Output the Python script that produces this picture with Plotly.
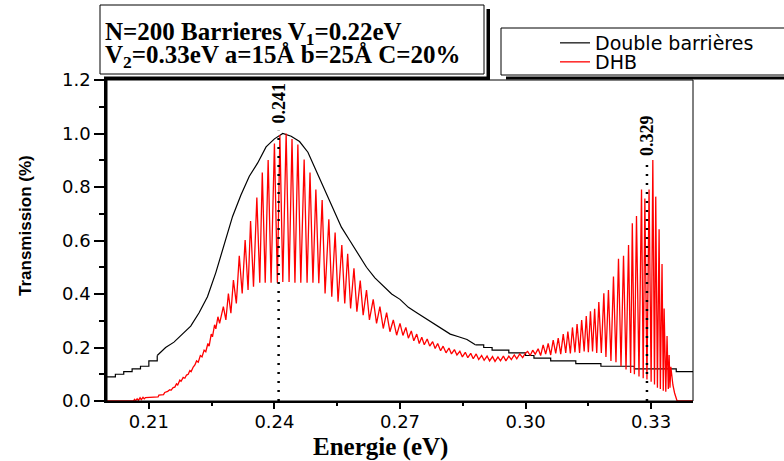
import plotly.graph_objects as go

# ---------------- data ----------------
# Double barrier transmission (black curve)
db_energy = [0.200, 0.202, 0.204, 0.206, 0.208, 0.210, 0.212, 0.214, 0.216, 0.218,
             0.220, 0.222, 0.224, 0.226, 0.228, 0.230, 0.232, 0.234, 0.236, 0.238,
             0.240, 0.242, 0.244, 0.246, 0.248, 0.250, 0.252, 0.254, 0.256, 0.258,
             0.260, 0.262, 0.264, 0.266, 0.268, 0.270, 0.272, 0.274, 0.276, 0.278,
             0.280, 0.282, 0.284, 0.286, 0.288, 0.290, 0.292, 0.294, 0.296, 0.298,
             0.300, 0.302, 0.304, 0.306, 0.308, 0.310, 0.312, 0.314, 0.316, 0.318,
             0.320, 0.322, 0.324, 0.326, 0.328, 0.330, 0.332, 0.334, 0.336, 0.338,
             0.340]
db_trans = [0.09, 0.10, 0.11, 0.12, 0.13, 0.15, 0.17, 0.20, 0.22, 0.25,
            0.28, 0.33, 0.39, 0.48, 0.59, 0.69, 0.77, 0.84, 0.89, 0.95,
            0.98, 1.00, 0.99, 0.97, 0.93, 0.86, 0.79, 0.72, 0.65, 0.60,
            0.55, 0.50, 0.46, 0.43, 0.40, 0.38, 0.35, 0.33, 0.31, 0.29,
            0.27, 0.25, 0.24, 0.23, 0.21, 0.20, 0.19, 0.19, 0.18, 0.18,
            0.17, 0.16, 0.16, 0.15, 0.15, 0.15, 0.14, 0.14, 0.14, 0.13,
            0.13, 0.13, 0.13, 0.12, 0.12, 0.12, 0.12, 0.12, 0.11, 0.11,
            0.11]
# the slowly varying tails are drawn as steps, the resonance itself as a smooth line
db_step_left_end = 0.212
db_step_right_start = 0.288

# DHB transmission (red curve): successive maxima / minima
dhb_energy = [
    0.2000, 0.2063, 0.2066, 0.2068, 0.2072, 0.2075, 0.2079, 0.2082, 0.2086, 0.2089,
    0.2092, 0.2105, 0.2122, 0.2124, 0.2135, 0.2138, 0.2145, 0.2150, 0.2153, 0.2158,
    0.2162, 0.2166, 0.2169, 0.2174, 0.2177, 0.2182, 0.2186, 0.2190, 0.2194, 0.2198,
    0.2201, 0.2206, 0.2210, 0.2214, 0.2218, 0.2223, 0.2227, 0.2232, 0.2236, 0.2241,
    0.2244, 0.2249, 0.2252, 0.2257, 0.2260, 0.2265, 0.2269, 0.2278, 0.2284, 0.2290,
    0.2296, 0.2302, 0.2309, 0.2316, 0.2323, 0.2330, 0.2337, 0.2343, 0.2350, 0.2358,
    0.2365, 0.2371, 0.2378, 0.2385, 0.2392, 0.2400, 0.2407, 0.2413, 0.2420, 0.2428,
    0.2435, 0.2442, 0.2449, 0.2456, 0.2463, 0.2471, 0.2478, 0.2485, 0.2492, 0.2499,
    0.2506, 0.2514, 0.2521, 0.2530, 0.2537, 0.2545, 0.2552, 0.2561, 0.2568, 0.2575,
    0.2582, 0.2590, 0.2597, 0.2605, 0.2612, 0.2620, 0.2627, 0.2636, 0.2644, 0.2652,
    0.2660, 0.2668, 0.2676, 0.2684, 0.2692, 0.2700, 0.2707, 0.2714, 0.2720, 0.2727,
    0.2733, 0.2740, 0.2746, 0.2752, 0.2758, 0.2765, 0.2771, 0.2778, 0.2784, 0.2790,
    0.2797, 0.2803, 0.2810, 0.2817, 0.2823, 0.2830, 0.2836, 0.2843, 0.2849, 0.2856,
    0.2862, 0.2869, 0.2875, 0.2882, 0.2888, 0.2895, 0.2901, 0.2908, 0.2914, 0.2921,
    0.2927, 0.2934, 0.2940, 0.2947, 0.2953, 0.2960, 0.2966, 0.2973, 0.2979, 0.2986,
    0.2993, 0.3000, 0.3005, 0.3011, 0.3017, 0.3023, 0.3030, 0.3036, 0.3042, 0.3048,
    0.3054, 0.3060, 0.3066, 0.3072, 0.3078, 0.3084, 0.3090, 0.3096, 0.3101, 0.3107,
    0.3112, 0.3118, 0.3123, 0.3129, 0.3134, 0.3140, 0.3145, 0.3150, 0.3155, 0.3160,
    0.3165, 0.3170, 0.3175, 0.3181, 0.3187, 0.3192, 0.3198, 0.3204, 0.3210, 0.3216,
    0.3222, 0.3228, 0.3234, 0.3240, 0.3246, 0.3251, 0.3255, 0.3260, 0.3265, 0.3271,
    0.3277, 0.3281, 0.3285, 0.3290, 0.3295, 0.3300, 0.3304, 0.3308, 0.3311, 0.3315,
    0.3319, 0.3322, 0.3326, 0.3329, 0.3331, 0.3335, 0.3338, 0.3341, 0.3343, 0.3345,
    0.3347, 0.3352, 0.3356, 0.3362, 0.3400]
dhb_trans = [
    0.000, 0.000, 0.006, 0.000, 0.008, 0.002, 0.012, 0.005, 0.014, 0.008,
    0.013, 0.013, 0.015, 0.022, 0.024, 0.032, 0.036, 0.042, 0.040, 0.050,
    0.052, 0.064, 0.060, 0.078, 0.074, 0.088, 0.085, 0.097, 0.100, 0.114,
    0.110, 0.127, 0.135, 0.150, 0.145, 0.170, 0.165, 0.190, 0.184, 0.215,
    0.205, 0.250, 0.240, 0.285, 0.270, 0.315, 0.290, 0.353, 0.303, 0.402,
    0.328, 0.452, 0.365, 0.543, 0.402, 0.602, 0.415, 0.673, 0.427, 0.761,
    0.442, 0.854, 0.442, 0.901, 0.442, 0.963, 0.442, 0.994, 0.445, 1.000,
    0.445, 0.979, 0.442, 0.959, 0.442, 0.903, 0.442, 0.854, 0.442, 0.791,
    0.440, 0.751, 0.402, 0.679, 0.390, 0.630, 0.371, 0.583, 0.365, 0.550,
    0.346, 0.496, 0.334, 0.450, 0.321, 0.415, 0.303, 0.380, 0.290, 0.353,
    0.271, 0.330, 0.259, 0.303, 0.246, 0.290, 0.245, 0.275, 0.235, 0.262,
    0.225, 0.250, 0.215, 0.238, 0.210, 0.232, 0.205, 0.222, 0.196, 0.215,
    0.188, 0.205, 0.180, 0.198, 0.176, 0.192, 0.172, 0.186, 0.165, 0.182,
    0.162, 0.178, 0.158, 0.176, 0.155, 0.170, 0.152, 0.168, 0.150, 0.166,
    0.148, 0.165, 0.150, 0.168, 0.150, 0.168, 0.155, 0.172, 0.158, 0.176,
    0.162, 0.180, 0.185, 0.170, 0.190, 0.175, 0.195, 0.170, 0.210, 0.175,
    0.215, 0.172, 0.228, 0.178, 0.235, 0.175, 0.250, 0.180, 0.260, 0.178,
    0.275, 0.182, 0.288, 0.180, 0.303, 0.185, 0.318, 0.182, 0.335, 0.185,
    0.345, 0.180, 0.370, 0.180, 0.403, 0.165, 0.415, 0.150, 0.465, 0.145,
    0.532, 0.130, 0.543, 0.118, 0.583, 0.105, 0.664, 0.100, 0.692, 0.092,
    0.791, 0.085, 0.757, 0.080, 0.791, 0.072, 0.901, 0.062, 0.764, 0.050,
    0.642, 0.045, 0.512, 0.038, 0.346, 0.035, 0.243, 0.045, 0.172, 0.050,
    0.128, 0.060, 0.030, 0.000, 0.000]

# resonance markers
peak_energy = [0.241, 0.329]
peak_top = [1.01, 0.89]
peak_label = ["0.241", "0.329"]

# axes
x_ticks = [0.21, 0.24, 0.27, 0.30, 0.33]
y_ticks = [0.0, 0.2, 0.4, 0.6, 0.8, 1.0, 1.2]

# ---------------- geometry ----------------
W, H = 784, 461
ML, MR, MT, MB = 107, 91, 80, 60
PW, PH = W - ML - MR, H - MT - MB


def px_x(p):
    return (p - ML) / PW


def px_y(p):
    return (H - MB - p) / PH


fig = go.Figure()

# black curve: stepped tails + smooth centre, one legend entry
i_left = db_energy.index(db_step_left_end)
i_right = db_energy.index(db_step_right_start)
black = dict(color="black", width=1.2)
fig.add_trace(go.Scatter(
    x=db_energy[i_left:i_right + 1], y=db_trans[i_left:i_right + 1], mode="lines",
    name="Double barrières", line=black, legend="legend", legendgroup="db",
    showlegend=True))
fig.add_trace(go.Scatter(
    x=db_energy[:i_left + 1], y=db_trans[:i_left + 1], mode="lines",
    name="Double barrières", line=dict(black, shape="hv"), legend="legend",
    legendgroup="db", showlegend=False))
fig.add_trace(go.Scatter(
    x=db_energy[i_right:], y=db_trans[i_right:], mode="lines",
    name="Double barrières", line=dict(black, shape="hv"), legend="legend",
    legendgroup="db", showlegend=False))

fig.add_trace(go.Scatter(
    x=dhb_energy, y=dhb_trans, mode="lines", name="DHB",
    line=dict(color="#ff0000", width=1.3), legend="legend2", showlegend=True))

shapes = []
# plot frame
shapes.append(dict(type="rect", xref="paper", yref="paper", x0=0, x1=1, y0=0, y1=1,
                   line=dict(color="black", width=1), layer="above"))

# info box with drop shadow
shapes.append(dict(type="rect", xref="paper", yref="paper",
                   x0=px_x(104), x1=px_x(490), y0=px_y(80), y1=px_y(9),
                   fillcolor="black", line=dict(width=0)))
shapes.append(dict(type="rect", xref="paper", yref="paper",
                   x0=px_x(99), x1=px_x(486.5), y0=px_y(76.5), y1=px_y(4),
                   fillcolor="white", line=dict(width=0)))
shapes.append(dict(type="rect", xref="paper", yref="paper",
                   x0=px_x(100), x1=px_x(484), y0=px_y(74), y1=px_y(5),
                   fillcolor="white", line=dict(color="black", width=1)))

# legend box with drop shadow
shapes.append(dict(type="rect", xref="paper", yref="paper",
                   x0=px_x(506), x1=px_x(800), y0=px_y(79.5), y1=px_y(33),
                   fillcolor="black", line=dict(width=0)))
shapes.append(dict(type="rect", xref="paper", yref="paper",
                   x0=px_x(500), x1=px_x(800), y0=px_y(76.5), y1=px_y(27),
                   fillcolor="white", line=dict(width=0)))
shapes.append(dict(type="rect", xref="paper", yref="paper",
                   x0=px_x(501), x1=px_x(800), y0=px_y(75), y1=px_y(28),
                   fillcolor="white", line=dict(color="black", width=1)))

# dotted resonance lines
for e, top in zip(peak_energy, peak_top):
    shapes.append(dict(type="line", xref="x", yref="y", x0=e, x1=e, y0=0, y1=top,
                       line=dict(color="black", width=2.5, dash="2px,7px")))

annotations = []
for e, top, lab in zip(peak_energy, peak_top, peak_label):
    annotations.append(dict(
        x=e, y=top + 0.02, xref="x", yref="y", text=lab, showarrow=False,
        textangle=-90, xanchor="center", yanchor="bottom",
        font=dict(family="Liberation Serif", size=18, color="black", weight="bold")))

box_font = dict(family="Liberation Serif", size=25, color="black", weight="bold")
annotations.append(dict(
    x=px_x(103), y=px_y(33), xref="paper", yref="paper", xanchor="left", yanchor="middle",
    text="N=200 Barrieres V<sub>1</sub>=0.22eV", showarrow=False, font=box_font))
annotations.append(dict(
    x=px_x(103), y=px_y(56), xref="paper", yref="paper", xanchor="left", yanchor="middle",
    text="V<sub>2</sub>=0.33eV a=15Å b=25Å C=20%", showarrow=False, font=box_font))

# axis titles
annotations.append(dict(
    x=px_x(380), y=px_y(447), xref="paper", yref="paper", xanchor="center", yanchor="middle",
    text="Energie (eV)", showarrow=False,
    font=dict(family="Liberation Serif", size=25, color="black", weight="bold")))
annotations.append(dict(
    x=px_x(25), y=px_y(226), xref="paper", yref="paper", xanchor="center", yanchor="middle",
    text="Transmission (%)", showarrow=False, textangle=-90,
    font=dict(family="Liberation Sans", size=17, color="black", weight="bold")))

tick_font = dict(family="DejaVu Sans", size=18, color="black")
legend_font = dict(family="DejaVu Sans", size=19, color="black")

fig.update_layout(
    width=W, height=H,
    margin=dict(l=ML, r=MR, t=MT, b=MB, autoexpand=False),
    paper_bgcolor="white", plot_bgcolor="white",
    showlegend=True,
    shapes=shapes, annotations=annotations,
    legend=dict(x=px_x(555), y=px_y(43), xanchor="left", yanchor="middle",
                bgcolor="rgba(0,0,0,0)", borderwidth=0, font=legend_font),
    legend2=dict(x=px_x(555), y=px_y(62), xanchor="left", yanchor="middle",
                 bgcolor="rgba(0,0,0,0)", borderwidth=0, font=legend_font),
    xaxis=dict(
        range=[0.2, 0.34], tickvals=x_ticks, ticktext=[f"{v:.2f}" for v in x_ticks],
        ticks="outside", ticklen=6, tickwidth=1.5, tickcolor="black",
        showline=True, linecolor="black", linewidth=2, showgrid=False, zeroline=False,
        tickfont=tick_font, layer="below traces", ticklabelstandoff=-3,
        minor=dict(dtick=0.015, tick0=0.21, ticks="outside", ticklen=3, tickcolor="black"),
    ),
    yaxis=dict(
        range=[0, 1.2], tickvals=y_ticks, ticktext=[f"{v:.1f}" for v in y_ticks],
        ticks="outside", ticklen=10, tickwidth=1.5, tickcolor="black",
        showline=True, linecolor="black", linewidth=2.5, showgrid=False, zeroline=False,
        tickfont=tick_font, layer="below traces",
        minor=dict(dtick=0.1, tick0=0, ticks="outside", ticklen=5, tickcolor="black"),
    ),
)

fig.write_html("out.html")
